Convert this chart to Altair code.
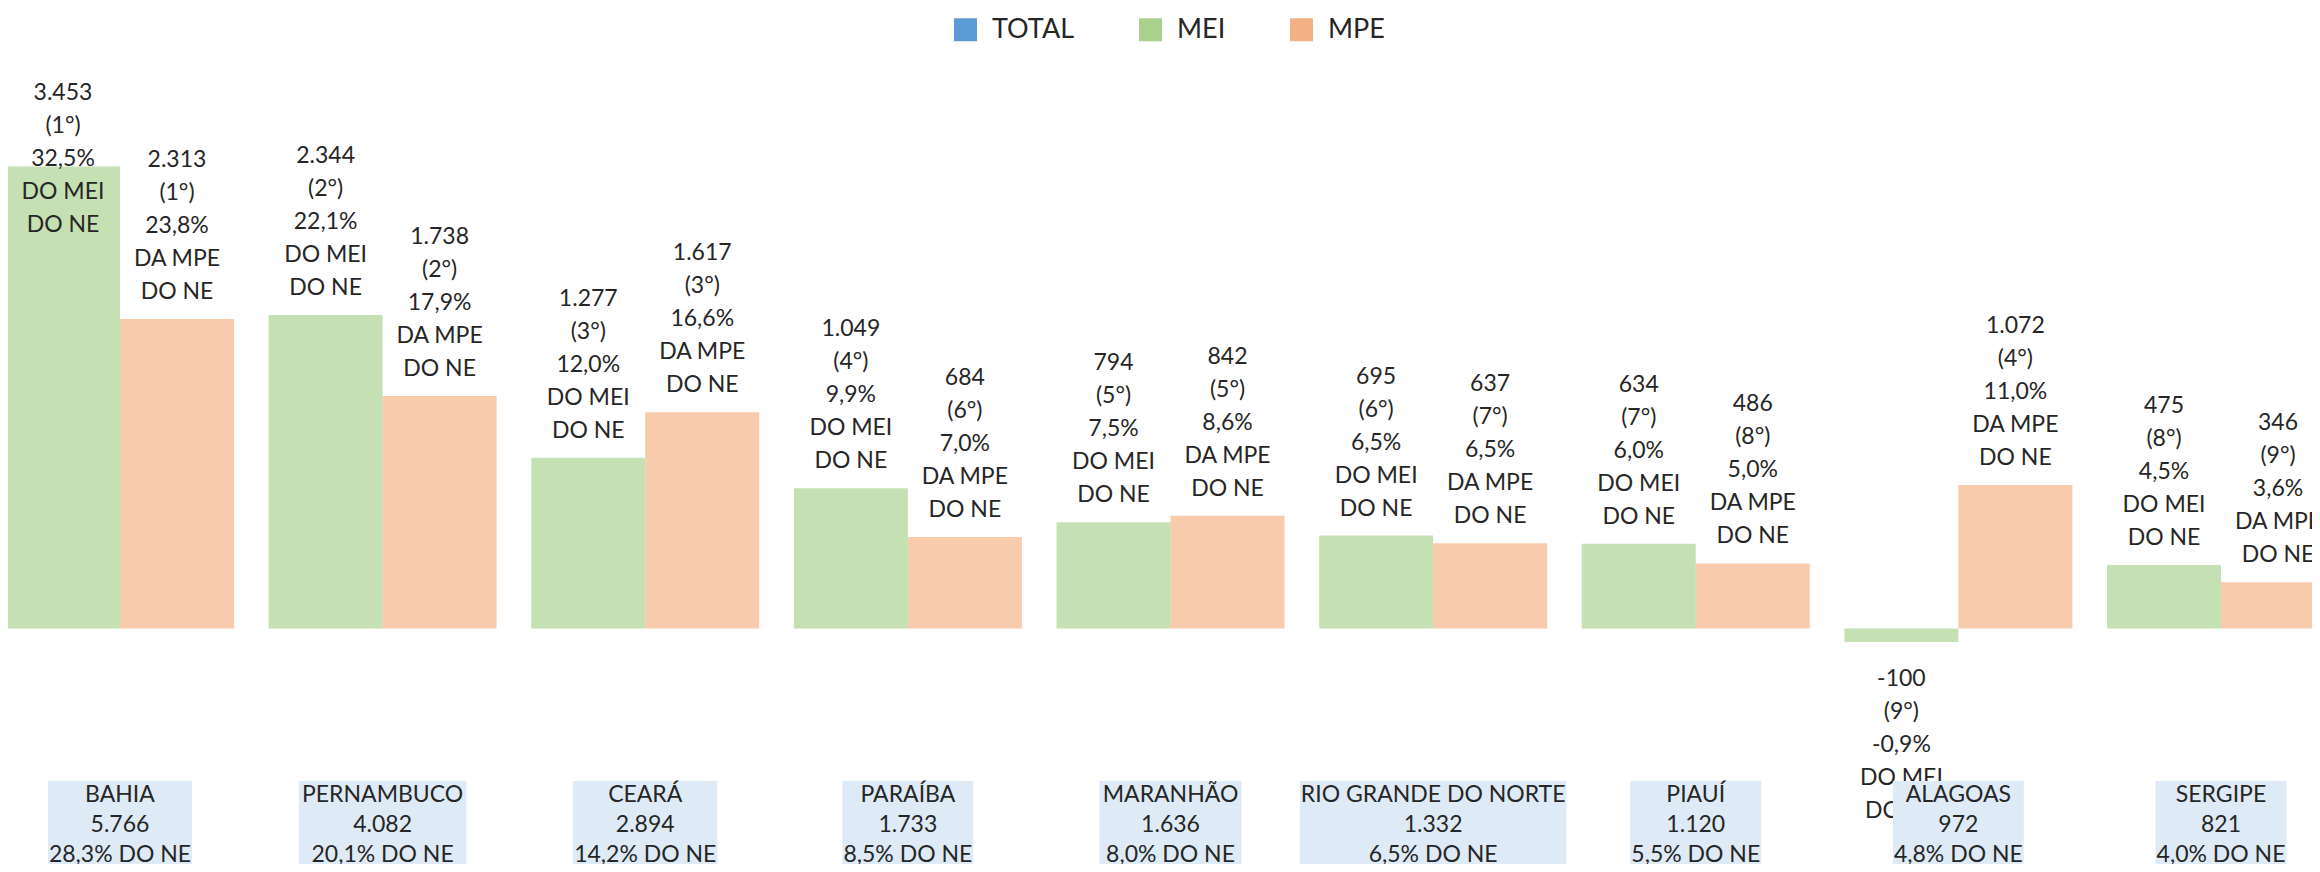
import altair as alt
import pandas as pd

# ---------------- data ----------------
states = ["BAHIA", "PERNAMBUCO", "CEARÁ", "PARAÍBA", "MARANHÃO",
          "RIO GRANDE DO NORTE", "PIAUÍ", "ALAGOAS", "SERGIPE"]
total = [5766, 4082, 2894, 1733, 1636, 1332, 1120, 972, 821]
total_pct = [28.3, 20.1, 14.2, 8.5, 8.0, 6.5, 5.5, 4.8, 4.0]
mei = [3453, 2344, 1277, 1049, 794, 695, 634, -100, 475]
mei_rank = [1, 2, 3, 4, 5, 6, 7, 9, 8]
mei_pct = [32.5, 22.1, 12.0, 9.9, 7.5, 6.5, 6.0, -0.9, 4.5]
mpe = [2313, 1738, 1617, 684, 842, 637, 486, 1072, 346]
mpe_rank = [1, 2, 3, 6, 5, 7, 8, 4, 9]
mpe_pct = [23.8, 17.9, 16.6, 7.0, 8.6, 6.5, 5.0, 11.0, 3.6]
series = ["TOTAL", "MEI", "MPE"]
series_colors = ["#5b9bd5", "#a9d18e", "#f4b183"]

FONT = "Lato"
FS = 23
LH = 33


def fmt_int(v):
    return f"{v:,}".replace(",", ".")


def fmt_pct(v):
    return f"{v:.1f}".replace(".", ",") + "%"


# approximate Lato advance widths (em) to size the label boxes
CW = {" ": 0.19, ".": 0.21, ",": 0.21, "%": 0.80, "(": 0.32, ")": 0.32}
CW.update({d: 0.58 for d in "0123456789"})
CW.update({"A": 0.68, "Á": 0.68, "Ã": 0.68, "B": 0.65, "C": 0.67, "D": 0.75,
           "E": 0.57, "G": 0.73, "H": 0.76, "I": 0.29, "Í": 0.29, "L": 0.50,
           "M": 0.92, "N": 0.76, "O": 0.80, "P": 0.61, "R": 0.64, "S": 0.53,
           "T": 0.58, "U": 0.73})


def text_w(s):
    return sum(CW.get(c, 0.6) for c in s) * FS


rows = []
for i, st in enumerate(states):
    rows.append(dict(state=st, serie="MEI", value=mei[i],
                     label="\n".join([fmt_int(mei[i]), f"({mei_rank[i]}°)",
                                      fmt_pct(mei_pct[i]), "DO MEI", "DO NE"])))
    rows.append(dict(state=st, serie="MPE", value=mpe[i],
                     label="\n".join([fmt_int(mpe[i]), f"({mpe_rank[i]}°)",
                                      fmt_pct(mpe_pct[i]), "DA MPE", "DO NE"])))
bars_df = pd.DataFrame(rows)

box_rows = []
for i, st in enumerate(states):
    lines = [st, fmt_int(total[i]), fmt_pct(total_pct[i]) + " DO NE"]
    box_rows.append(dict(state=st, label="\n".join(lines),
                         boxw=max(text_w(s) for s in lines) + 6))
box_df = pd.DataFrame(box_rows)

# ---------------- scales ----------------
W, H = 2304, 856
x_scale = alt.Scale(type="band", domain=states, range=[-2, 2327],
                    paddingInner=0.132, paddingOuter=0)
xo_scale = alt.Scale(domain=["MEI", "MPE"], paddingInner=0, paddingOuter=0)
y_scale = alt.Scale(domain=[-1760, 4637.5], nice=False, zero=False)

X = alt.X("state:N", scale=x_scale, axis=None)
XO = alt.XOffset("serie:N", scale=xo_scale)

base = alt.Chart(bars_df)

bars = base.mark_bar(opacity=0.67).encode(
    x=X,
    xOffset=XO,
    y=alt.Y("value:Q", scale=y_scale, axis=None),
    color=alt.Color(
        "serie:N",
        scale=alt.Scale(domain=series, range=series_colors),
        legend=alt.Legend(
            title=None, orient="none", legendX=944, legendY=8,
            direction="horizontal", symbolType="square", symbolSize=529,
            symbolOpacity=1, symbolStrokeWidth=0, labelFontSize=27,
            labelFont=FONT, labelColor="#262626", labelOffset=13,
            columnPadding=62,
        ),
    ),
)

txt_style = dict(lineBreak="\n", lineHeight=LH, fontSize=FS, font=FONT,
                 color="#262626", align="center")

# labels above positive bars: the 5-line block ends just above the bar
lab_pos = base.transform_filter("datum.value >= 0").transform_calculate(
    ly="min(datum.value, 2814)"
).mark_text(baseline="bottom", dy=-15 - 4 * LH, **txt_style).encode(
    x=X, xOffset=XO,
    y=alt.Y("ly:Q", scale=y_scale, axis=None),
    text="label:N",
)

# label below the negative bar
lab_neg = base.transform_filter("datum.value < 0").mark_text(
    baseline="top", dy=26, **txt_style
).encode(
    x=X, xOffset=XO,
    y=alt.Y("value:Q", scale=y_scale, axis=None),
    text="label:N",
)

boxes = alt.Chart(box_df).mark_bar(color="#deebf7").encode(
    x=X,
    y=alt.datum(-1140, scale=y_scale),
    y2=alt.datum(-1800),
    size=alt.Size("boxw:Q", scale=None, legend=None),
)

box_text = alt.Chart(box_df).mark_text(
    baseline="middle", lineBreak="\n", lineHeight=30, fontSize=FS,
    font=FONT, color="#262626", align="center"
).encode(
    x=X,
    y=alt.datum(-1247, scale=y_scale),
    text="label:N",
)

chart = alt.layer(bars, lab_pos, lab_neg, boxes, box_text).properties(
    width=W, height=H, padding=0,
    autosize=alt.AutoSizeParams(type="none"),
).configure_view(stroke=None)

chart.save("out.html", embed_options={"renderer": "svg", "actions": False})
